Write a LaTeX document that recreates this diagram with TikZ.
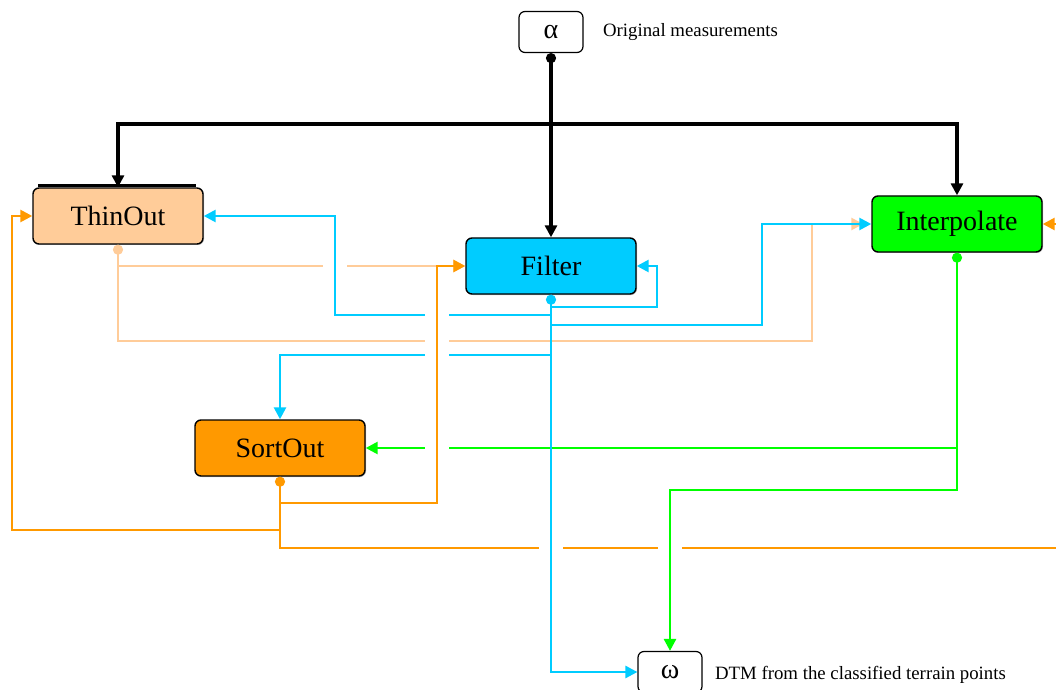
\documentclass[tikz,border=0pt]{standalone}
\usepackage{fontspec}
\setmainfont{Liberation Serif}
\usepackage{amsmath}
\usetikzlibrary{arrows.meta,shadows}

\definecolor{peach}{HTML}{FFCC99}
\definecolor{sky}{HTML}{00CCFF}
\definecolor{lime}{HTML}{00FF00}
\definecolor{amber}{HTML}{FF9900}

% white break in a line where another one crosses it
\newcommand{\hopgap}[2]{%
  \fill[white] (#1) ++(-12,-4) rectangle ++(24,8);
  \draw[line width=1.3pt,#2] (#1) ++(0,-6) -- ++(0,12);}

\begin{document}
\begin{tikzpicture}[x=0.5pt, y=-0.5pt,
  box/.style={draw, line width=0.7pt, rounded corners=3pt, minimum width=85pt,
    minimum height=28pt, font=\fontsize{14}{16}\selectfont,
    drop shadow={shadow xshift=0.5pt, shadow yshift=-0.5pt, opacity=0.5}},
  term/.style={draw, line width=0.6pt, rounded corners=3pt, fill=white,
    minimum width=32pt, minimum height=20.5pt, font=\fontsize{14}{16}\selectfont},
  note/.style={anchor=west, font=\fontsize{9.4}{11}\selectfont},
  wire/.style={line width=1.3pt, -{Triangle[length=6pt,width=6pt]}},
  src/.style={{Circle[length=5pt]}-{Triangle[length=6pt,width=6pt]}},
  ]
\useasboundingbox (0,0) rectangle (1056,690);

\node[term] (alpha) at (551,32) {α};
\node[note] at (596,32) {Original measurements};
\node[box, fill=peach] (thin) at (118,216) {ThinOut};
\node[box, fill=sky] (filt) at (551,266) {Filter};
\node[box, fill=lime] (interp) at (957,224) {Interpolate};
\node[box, fill=amber] (sort) at (280,448) {SortOut};
\node[term] (omega) at (670,672) {ω};
\node[note] at (708,675) {DTM from the classified terrain points};
\draw[line width=1.5pt] ([xshift=3pt,yshift=0.8pt]thin.north west) -- ([xshift=-4pt,yshift=0.8pt]thin.north east);

% measurements
\coordinate (split) at (551,124);
\draw[wire, src, line width=1.6pt] (alpha.south) -- (filt.north);
\draw[wire, line width=1.6pt] (split) -| (thin.north);
\draw[wire, line width=1.6pt] (split) -| (interp.north);

% ThinOut
\draw[wire, src, peach] (thin.south) |- (filt.west);
\draw[wire, peach, shorten >=4pt] (thin.south) |- (812,341) |- (interp.west);

% Interpolate
\draw[wire, src, lime] (interp.south) |- (sort.east);
\draw[wire, lime] (interp.south) |- (670,490) -- (omega.north);

% SortOut
\draw[wire, src, amber] (sort.south) |- (437,503) |- (filt.west);
\draw[wire, amber] (sort.south) |- (12,530) |- (thin.west);
\draw[wire, amber] (sort.south) |- (1080,548) |- (interp.east);

% Filter
\draw[wire, src, sky] (filt.south) |- (omega.west);
\draw[wire, sky] (filt.south) |- (657,307) |- (filt.east);
\draw[wire, sky] (filt.south) |- (335,315) |- (thin.east);
\draw[wire, sky] (filt.south) |- (762,325) |- (interp.west);
\draw[wire, sky] (filt.south) |- (280,355) -- (sort.north);

% crossings
\hopgap{335,265}{sky}
\hopgap{437,315}{amber}
\hopgap{437,341}{amber}
\hopgap{437,355}{amber}
\hopgap{437,448}{amber}
\hopgap{551,548}{sky}
\hopgap{670,548}{lime}
\end{tikzpicture}
\end{document}
